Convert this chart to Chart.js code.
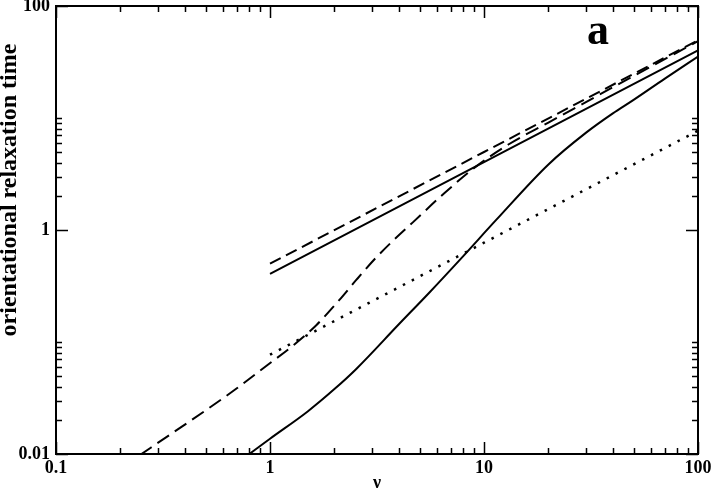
<!DOCTYPE html>
<html><head><meta charset="utf-8">
<script src="https://cdn.jsdelivr.net/npm/chart.js@4"></script>
<style>html,body{margin:0;padding:0;background:#fff}#wrap{width:712px;height:490px}</style>
</head><body><div id="wrap"><canvas id="c" width="712" height="490"></canvas></div>
<script>
// ---- tick values ----
const xTicksMajor = [0.1, 1, 10, 100];
const xTicksMinor = [0.2,0.3,0.4,0.5,0.6,0.7,0.8,0.9, 2,3,4,5,6,7,8,9, 20,30,40,50,60,70,80,90];
const yTicksMajor = [0.01, 1, 100];
const yTicksMinor = [0.02,0.03,0.04,0.05,0.06,0.07,0.08,0.09,0.1, 2,3,4,5,6,7,8,9,10];

// ---- series ----
const lineX = [1, 10, 100];
const upperDashedY = [0.50, 4.97, 49.4];
const upperSolidY = [0.405, 4.03, 40.2];
const dottedY = [0.077, 0.77, 7.7];

const dashCurveX = [0.247, 0.35, 0.5, 0.7, 0.96, 1.3, 1.65, 2.1, 2.53, 3.14, 3.75, 4.65, 6.5, 9.2, 13, 20, 50, 100];
const dashCurveY = [0.0098, 0.0154, 0.0245, 0.0386, 0.061, 0.095, 0.142, 0.235, 0.358, 0.57, 0.80, 1.17, 2.12, 3.7, 5.8, 9.1, 23.7, 48.5];

const lowerSolidX = [0.79, 1.0, 1.5, 2.0, 2.53, 4.0, 5.56, 8.0, 11.4, 20, 30, 40, 49.4, 70, 100];
const lowerSolidY = [0.0098, 0.0137, 0.024, 0.038, 0.0575, 0.144, 0.277, 0.585, 1.23, 3.85, 7.4, 11.0, 14.3, 22.5, 35.3];

const yTitle = 'orientational relaxation time';
const xTitle = 'ν';
const panelLabel = 'a';

const pts = (xs, ys) => xs.map((x, i) => ({x: x, y: ys[i]}));
const SERIF = '"Liberation Serif", "DejaVu Serif", serif';

function ds(data, dash, width, cubic) {
  return {
    data: data, borderColor: '#000', backgroundColor: '#000', borderWidth: width,
    borderDash: dash, pointRadius: 0, fill: false,
    cubicInterpolationMode: cubic ? 'monotone' : 'default', tension: 0,
    borderCapStyle: 'butt'
  };
}

const framePlugin = {
  id: 'frame',
  afterDraw(chart) {
    const ctx = chart.ctx, a = chart.chartArea;
    const xs = chart.scales.x, ys = chart.scales.y;
    ctx.save();
    ctx.strokeStyle = '#000';
    ctx.lineWidth = 1.5;
    const tick = (vals, len) => {
      vals.forEach(v => {
        const px = Math.round(xs.getPixelForValue(v)) + 0.5;
        ctx.beginPath();
        ctx.moveTo(px, a.bottom); ctx.lineTo(px, a.bottom - len);
        ctx.moveTo(px, a.top); ctx.lineTo(px, a.top + len);
        ctx.stroke();
      });
    };
    const ticky = (vals, len) => {
      vals.forEach(v => {
        const py = Math.round(ys.getPixelForValue(v)) + 0.5;
        ctx.beginPath();
        ctx.moveTo(a.left, py); ctx.lineTo(a.left + len, py);
        ctx.moveTo(a.right, py); ctx.lineTo(a.right - len, py);
        ctx.stroke();
      });
    };
    tick(xTicksMinor, 6); tick(xTicksMajor, 12);
    ticky(yTicksMinor, 6); ticky(yTicksMajor, 12);
    ctx.lineWidth = 2;
    ctx.strokeRect(a.left, a.top, a.right - a.left, a.bottom - a.top);
    // axis titles & panel label
    ctx.fillStyle = '#000';
    ctx.textAlign = 'center'; ctx.textBaseline = 'middle';
    ctx.font = 'bold 24px ' + SERIF;
    ctx.save();
    ctx.translate(10, 190);
    ctx.rotate(-Math.PI / 2);
    ctx.fillText(yTitle, 0, 0);
    ctx.restore();
    ctx.font = 'bold 18px ' + SERIF;
    ctx.fillText(xTitle, (a.left + a.right) / 2, 483);
    ctx.font = 'bold 44px ' + SERIF;
    ctx.textBaseline = 'alphabetic';
    ctx.fillText(panelLabel, 598, 44);
    ctx.restore();
  }
};

new Chart(document.getElementById('c'), {
  type: 'line',
  data: {
    datasets: [
      ds(pts(lineX, upperDashedY), [12, 6], 2, false),
      ds(pts(lineX, upperSolidY), [], 2, false),
      ds(pts(lineX, dottedY), [2.5, 7.5], 2.5, false),
      ds(pts(dashCurveX, dashCurveY), [14, 7], 2, true),
      ds(pts(lowerSolidX, lowerSolidY), [], 2, true)
    ]
  },
  options: {
    responsive: false, animation: false, devicePixelRatio: 1,
    layout: {padding: {top: 6, right: 14, left: 0, bottom: 0}},
    plugins: {legend: {display: false}, tooltip: {enabled: false}},
    scales: {
      x: {
        type: 'logarithmic', min: 0.1, max: 100,
        grid: {display: false, drawTicks: false}, border: {display: false},
        afterBuildTicks: s => { s.ticks = xTicksMajor.map(v => ({value: v})); },
        afterFit: s => { s.height = 36; s.paddingLeft = 0; s.paddingRight = 0; },
        ticks: {
          autoSkip: false, maxRotation: 0, padding: 4, color: '#000',
          font: {family: SERIF, weight: 'bold', size: 18},
          callback: v => String(v)
        }
      },
      y: {
        type: 'logarithmic', min: 0.01, max: 100,
        grid: {display: false, drawTicks: false}, border: {display: false},
        afterBuildTicks: s => { s.ticks = yTicksMajor.map(v => ({value: v})); },
        afterFit: s => { s.width = 56; s.paddingTop = 0; s.paddingBottom = 0; },
        ticks: {
          autoSkip: false, padding: 6, color: '#000',
          font: {family: SERIF, weight: 'bold', size: 18},
          callback: v => String(v)
        }
      }
    }
  },
  plugins: [framePlugin]
});
</script>
</body></html>
